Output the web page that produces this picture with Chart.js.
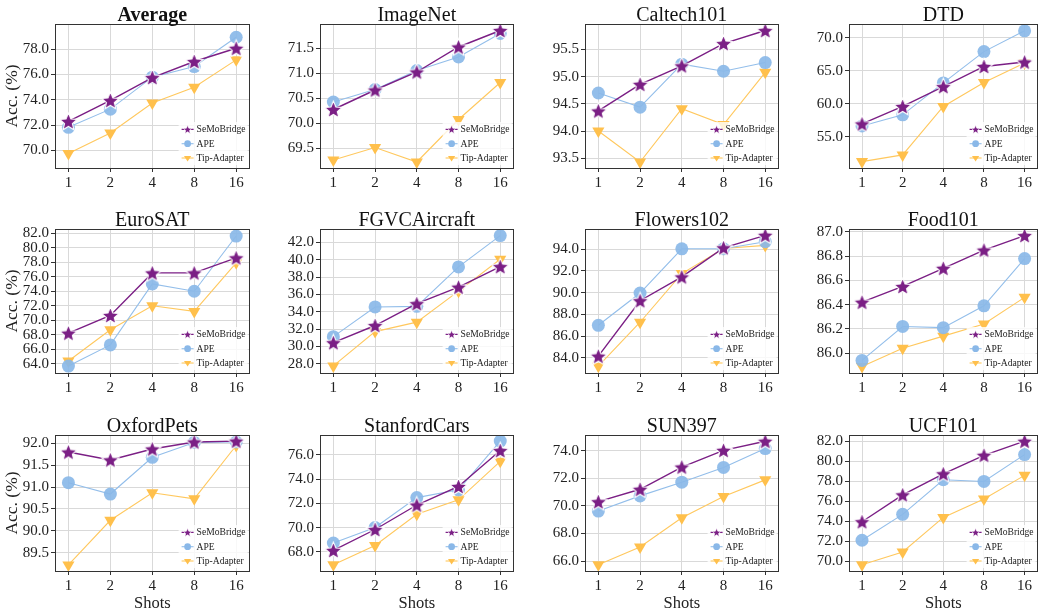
<!DOCTYPE html>
<html><head><meta charset="utf-8">
<script src="https://cdn.jsdelivr.net/npm/chart.js@4.4.1/dist/chart.umd.min.js"></script>
<style>
html,body{margin:0;padding:0;background:#fff;}
body{width:1047px;height:613px;position:relative;overflow:hidden;}
canvas{position:absolute;}
</style></head><body>
<script>
// ---------------- DATA ----------------
const shots = ['1', '2', '4', '8', '16'];
const datasetNames = ['Average','ImageNet','Caltech101','DTD','EuroSAT','FGVCAircraft','Flowers102','Food101','OxfordPets','StanfordCars','SUN397','UCF101'];
const seriesNames = ['SeMoBridge', 'APE', 'Tip-Adapter'];

const semoBridgeAcc = [
  [72.29, 73.95, 75.76, 77.03, 78.08],
  [70.28, 70.67, 71.03, 71.53, 71.86],
  [94.37, 94.86, 95.20, 95.61, 95.85],
  [56.94, 59.59, 62.60, 65.66, 66.33],
  [68.25, 70.69, 76.55, 76.55, 78.63],
  [30.44, 32.42, 34.94, 36.84, 39.21],
  [84.15, 89.25, 91.44, 94.12, 95.27],
  [86.42, 86.55, 86.70, 86.85, 86.97],
  [91.80, 91.62, 91.87, 92.03, 92.05],
  [68.13, 69.85, 71.87, 73.40, 76.36],
  [70.30, 71.20, 72.81, 74.02, 74.68],
  [73.97, 76.66, 78.77, 80.62, 82.03]
];
const apeAcc = [
  [71.82, 73.26, 75.79, 76.63, 78.95],
  [70.43, 70.68, 71.06, 71.33, 71.80],
  [94.70, 94.44, 95.23, 95.10, 95.26],
  [56.63, 58.32, 63.16, 67.91, 71.07],
  [63.72, 66.63, 75.03, 74.02, 81.63],
  [31.14, 34.56, 34.63, 39.17, 42.78],
  [86.99, 89.96, 94.03, 94.03, 94.68],
  [85.94, 86.22, 86.21, 86.39, 86.78],
  [91.10, 90.84, 91.68, 92.02, 92.03],
  [68.74, 70.01, 72.48, 73.12, 77.14],
  [69.62, 70.72, 71.71, 72.78, 74.15],
  [72.12, 74.71, 78.17, 78.00, 80.69]
];
const tipAdapterAcc = [
  [69.74, 71.37, 73.74, 75.00, 77.16],
  [69.27, 69.52, 69.23, 70.08, 70.82],
  [94.00, 93.43, 94.41, 94.12, 95.08],
  [51.22, 52.24, 59.59, 63.22, 66.17],
  [64.42, 68.71, 72.03, 71.25, 77.94],
  [27.77, 31.72, 32.81, 36.38, 40.06],
  [83.23, 87.27, 91.75, 94.06, 94.34],
  [85.89, 86.04, 86.14, 86.24, 86.46],
  [89.22, 90.24, 90.87, 90.73, 91.95],
  [66.95, 68.53, 71.10, 72.30, 75.47],
  [65.73, 67.02, 69.13, 70.67, 71.88],
  [69.66, 70.94, 74.40, 76.25, 78.61]
];
const yTickValues = [
  [70, 72, 74, 76, 78],
  [69.5, 70.0, 70.5, 71.0, 71.5],
  [93.5, 94.0, 94.5, 95.0, 95.5],
  [55, 60, 65, 70],
  [64, 66, 68, 70, 72, 74, 76, 78, 80, 82],
  [28, 30, 32, 34, 36, 38, 40, 42],
  [84, 86, 88, 90, 92, 94],
  [86.0, 86.2, 86.4, 86.6, 86.8, 87.0],
  [89.5, 90.0, 90.5, 91.0, 91.5, 92.0],
  [68, 70, 72, 74, 76],
  [66, 68, 70, 72, 74],
  [70, 72, 74, 76, 78, 80, 82]
];
const yAxisMin = [68.6, 69.11, 93.32, 50.25, 62.76, 26.95, 82.6, 85.836, 89.08, 66.43, 65.28, 69.04];
const yAxisMax = [80.0, 71.99, 95.97, 72.10, 82.60, 43.54, 95.85, 87.024, 92.19, 77.64, 75.13, 82.65];
const yAxisLabel = 'Acc. (%)';
const xAxisLabel = 'Shots';

// ---------------- LAYOUT / STYLE ----------------
const plotLeft = [55, 320, 585, 849];
const plotRight = [256, 520, 785, 1044];
const plotTop = [24, 229, 435];
const plotBottom = [168, 373, 571];
const TITLE_SPACE = 26, PAD_R = 4;
const FONT = '"Liberation Serif","Times New Roman",serif';
const PURPLE = '#7B1F85', BLUE = '#8AB8E8', ORANGE = '#FFC04C';

Chart.defaults.font.family = FONT;
Chart.defaults.color = '#222';

function starPath(g, cx, cy, R, r) {
  g.beginPath();
  for (let k = 0; k < 10; k++) {
    const a = -Math.PI / 2 + k * Math.PI / 5;
    const rr = (k % 2) ? r : R;
    g.lineTo(cx + rr * Math.cos(a), cy + rr * Math.sin(a));
  }
  g.closePath();
}
function makeStar(R) {
  const s = Math.ceil(2 * R + 4);
  const c = document.createElement('canvas');
  c.width = s; c.height = s;
  const g = c.getContext('2d');
  starPath(g, s / 2, s / 2 + R * 0.09, R, R * 0.45);
  g.fillStyle = PURPLE; g.fill();
  g.lineWidth = 1.1; g.strokeStyle = '#fff'; g.stroke();
  return c;
}
const starImg = makeStar(9.2);

const panelDecor = {
  id: 'panelDecor',
  afterDatasetsDraw(chart, args, opts) {
    const { ctx, chartArea: a } = chart;
    ctx.save();
    // frame
    const L = Math.floor(a.left) + 0.5, T = Math.floor(a.top) + 0.5;
    const R = Math.floor(a.right) + 0.5, B = Math.floor(a.bottom) + 0.5;
    ctx.strokeStyle = '#333'; ctx.lineWidth = 1;
    ctx.strokeRect(L, T, R - L, B - T);
    // legend
    const rx = a.right, by = a.bottom;
    ctx.fillStyle = 'rgba(255,255,255,0.8)';
    ctx.fillRect(rx - 71, by - 46, 69, 43);
    const ys = [by - 38.6, by - 24.3, by - 10];
    chart.data.datasets.forEach((ds, k) => {
      const y = ys[k];
      ctx.strokeStyle = ds.borderColor; ctx.lineWidth = ds.borderWidth;
      ctx.setLineDash(k === 0 ? [3, 1.5] : []);
      ctx.beginPath(); ctx.moveTo(rx - 68, y); ctx.lineTo(rx - 56, y); ctx.stroke();
      ctx.setLineDash([]);
      const mx = rx - 62;
      if (k === 0) {
        starPath(ctx, mx, y + 0.4, 4.5, 2.0);
        ctx.fillStyle = PURPLE; ctx.fill();
        ctx.lineWidth = 0.6; ctx.strokeStyle = '#fff'; ctx.stroke();
      } else if (k === 1) {
        ctx.beginPath(); ctx.arc(mx, y, 3.4, 0, Math.PI * 2);
        ctx.fillStyle = BLUE; ctx.fill();
      } else {
        ctx.beginPath();
        ctx.moveTo(mx - 3.6, y - 2); ctx.lineTo(mx + 3.6, y - 2); ctx.lineTo(mx, y + 3.6); ctx.closePath();
        ctx.fillStyle = ORANGE; ctx.fill();
      }
      ctx.fillStyle = '#222';
      ctx.font = '9.6px ' + FONT;
      ctx.textAlign = 'left'; ctx.textBaseline = 'middle';
      ctx.fillText(ds.label, rx - 53, y + 0.5);
    });
    // title
    ctx.font = (opts.bold ? 'bold ' : '') + '20px ' + FONT;
    ctx.fillStyle = '#111'; ctx.textAlign = 'center'; ctx.textBaseline = 'alphabetic';
    ctx.fillText(opts.title, (a.left + a.right) / 2, a.top - 3.5);
    ctx.restore();
  }
};

datasetNames.forEach((name, i) => {
  const r = Math.floor(i / 4), c = i % 4;
  const yAxisW = c === 0 ? plotLeft[0] : 56;
  const x0 = plotLeft[c] - yAxisW;
  const y0 = plotTop[r] - TITLE_SPACE;
  const xAxisH = r === 2 ? 44 : 30;
  const W = plotRight[c] - x0 + PAD_R;
  const H = plotBottom[r] + xAxisH - y0;
  const cv = document.createElement('canvas');
  cv.width = W; cv.height = H;
  cv.style.left = x0 + 'px'; cv.style.top = y0 + 'px';
  cv.style.width = W + 'px'; cv.style.height = H + 'px';
  document.body.appendChild(cv);

  const pts = arr => arr.map((v, k) => ({ x: k, y: v }));
  const gridOpts = { color: '#d9d9d9', lineWidth: 1, tickLength: 4, tickColor: '#333', tickWidth: 1, drawTicks: true };

  new Chart(cv, {
    type: 'line',
    data: {
      datasets: [
        { label: seriesNames[0], data: pts(semoBridgeAcc[i]), borderColor: PURPLE, borderWidth: 1.4,
          pointStyle: starImg, pointRadius: 9, backgroundColor: PURPLE, fill: false, tension: 0, order: 0 },
        { label: seriesNames[1], data: pts(apeAcc[i]), borderColor: '#93BEEA', borderWidth: 1.1,
          pointStyle: 'circle', pointRadius: 6.5, pointBackgroundColor: 'rgba(138,184,232,0.92)', pointBorderWidth: 0,
          backgroundColor: BLUE, fill: false, tension: 0, order: 1 },
        { label: seriesNames[2], data: pts(tipAdapterAcc[i]), borderColor: '#FFC85E', borderWidth: 1.1,
          pointStyle: 'triangle', pointRotation: 180, pointRadius: 7, pointBackgroundColor: ORANGE, pointBorderWidth: 0,
          backgroundColor: ORANGE, fill: false, tension: 0, order: 2 }
      ]
    },
    options: {
      responsive: false, animation: false, events: [],
      layout: { padding: { top: TITLE_SPACE, right: PAD_R, left: 0, bottom: 0 } },
      plugins: { legend: { display: false }, tooltip: { enabled: false }, panelDecor: { title: name, bold: i === 0 } },
      scales: {
        x: {
          type: 'linear', min: -0.32, max: 4.32, bounds: 'data',
          afterBuildTicks: s => { s.ticks = shots.map((_, k) => ({ value: k })); },
          afterFit: s => { s.height = xAxisH; },
          ticks: { callback: v => shots[v], font: { size: 15 }, color: '#222', padding: 2, maxRotation: 0, autoSkip: false },
          grid: gridOpts,
          border: { display: false },
          title: { display: r === 2, text: xAxisLabel, font: { size: 16.5 }, color: '#222', padding: { top: 0, bottom: 1 } }
        },
        y: {
          type: 'linear', min: yAxisMin[i], max: yAxisMax[i], bounds: 'data',
          afterBuildTicks: s => { s.ticks = yTickValues[i].map(v => ({ value: v })); },
          afterFit: s => { s.width = yAxisW; },
          ticks: { callback: v => Number(v).toFixed(1), font: { size: 15 }, color: '#222', padding: 2, autoSkip: false },
          grid: gridOpts,
          border: { display: false },
          title: { display: c === 0, text: yAxisLabel, font: { size: 17.5 }, color: '#222', padding: { top: 2, bottom: 0 } }
        }
      }
    },
    plugins: [panelDecor]
  });
});
</script>
</body></html>
